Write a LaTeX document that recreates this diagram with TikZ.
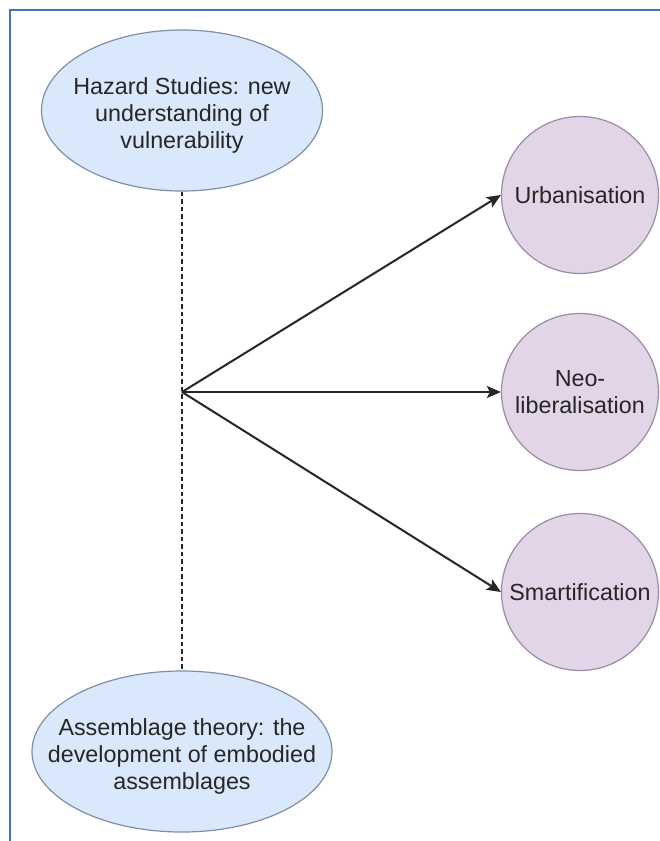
\documentclass[tikz,border=0pt]{standalone}
\usepackage{fontspec}
\setmainfont{Liberation Sans}
\usetikzlibrary{shapes.geometric,arrows.meta}
\definecolor{framecol}{HTML}{4472C4}
\definecolor{theoryfill}{HTML}{DAE8FC}
\definecolor{theorydraw}{HTML}{7F8FA6}
\definecolor{driverfill}{HTML}{E1D5E7}
\definecolor{driverdraw}{HTML}{9D8AA8}
\definecolor{textcol}{HTML}{262626}
% taller first line: sets the text block a little lower inside its ellipse
\newcommand{\leadstrut}{\rule{0pt}{27pt}}
\tikzset{
  frameline/.style={draw=framecol, line width=2pt},
  % the negative inner sep lets the minimum sizes fix the ellipse exactly
  theory/.style={ellipse, draw=theorydraw, fill=theoryfill, line width=1.2pt,
    inner sep=-60pt, align=center, text=textcol,
    font=\fontsize{23.3}{27}\selectfont},
  driver/.style={circle, draw=driverdraw, fill=driverfill, line width=1.2pt,
    inner sep=0pt, minimum size=157pt, align=center, text=textcol,
    font=\fontsize{23.3}{27.3}\selectfont},
  link/.style={draw=black!85, line width=2pt, dash pattern=on 4.5pt off 3pt},
  influence/.style={draw=black!85, line width=2pt,
    -{Stealth[length=14pt, width=12pt, inset=3pt]}}
}
\begin{document}
\begin{tikzpicture}[x=1pt, y=-1pt]
  \useasboundingbox (0,0) rectangle (660,841);
  \fill[white] (0,0) rectangle (660,841);
  % page frame
  \draw[frameline] (10,841) -- (10,10) -- (660,10);

  % theoretical strands
  \node[theory, minimum width=281pt, minimum height=161pt] (hazard) at (182,110.5)
    {\leadstrut Hazard Studies: new\\understanding of\\vulnerability};
  \node[theory, minimum width=300pt, minimum height=161pt] (assemblage) at (182,751.5)
    {\leadstrut Assemblage theory: the\\development of embodied\\assemblages};

  % dashed link between the two strands
  \draw[link] (hazard.south) -- (assemblage.north);
  \coordinate (hub) at (182,392);

  % driving processes
  \node[driver] (urban) at (580,195) {Urbanisation};
  \node[driver] (neolib) at (580,392) {Neo-\\liberalisation};
  \node[driver] (smart) at (580,592) {Smartification};

  \draw[influence] (hub) -- (urban.west);
  \draw[influence] (hub) -- (neolib.west);
  \draw[influence] (hub) -- (smart.west);
\end{tikzpicture}
\end{document}
